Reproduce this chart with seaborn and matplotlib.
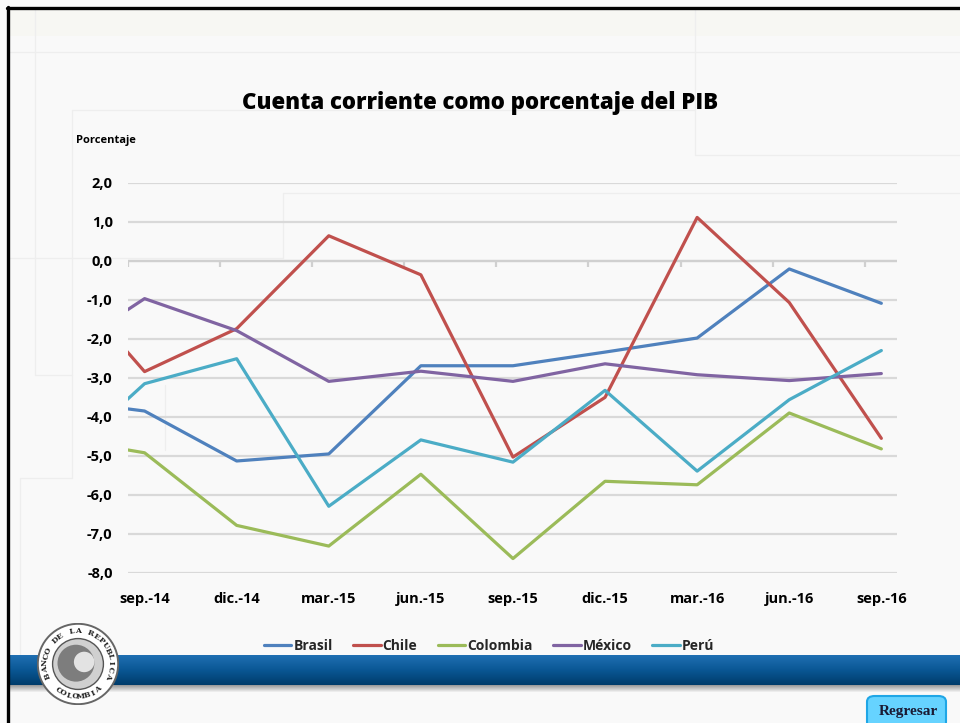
import numpy as np
import pandas as pd
import matplotlib
matplotlib.use("Agg")
import matplotlib.pyplot as plt
import seaborn as sns
from matplotlib.patches import Circle, FancyBboxPatch, Rectangle
from matplotlib.lines import Line2D
from matplotlib.colors import LinearSegmentedColormap

# ---------------- data ----------------
quarters = ["jun.-14", "sep.-14", "dic.-14", "mar.-15", "jun.-15", "sep.-15",
            "dic.-15", "mar.-16", "jun.-16", "sep.-16"]
quarter_pos = [-1, 0, 1, 2, 3, 4, 5, 6, 7, 8]
tick_labels = ["sep.-14", "dic.-14", "mar.-15", "jun.-15", "sep.-15",
               "dic.-15", "mar.-16", "jun.-16", "sep.-16"]
brasil   = [-3.55, -3.85, -5.13, -4.95, -2.69, -2.69, -2.34, -1.98, -0.21, -1.09]
chile    = [-0.14, -2.84, -1.74,  0.64, -0.36, -5.03, -3.50,  1.11, -1.07, -4.55]
colombia = [-4.52, -4.92, -6.78, -7.31, -5.47, -7.63, -5.65, -5.74, -3.90, -4.82]
mexico   = [-2.52, -0.97, -1.79, -3.09, -2.83, -3.09, -2.64, -2.92, -3.07, -2.89]
peru     = [-5.30, -3.15, -2.51, -6.29, -4.59, -5.16, -3.32, -5.39, -3.56, -2.30]
countries = ["Brasil", "Chile", "Colombia", "México", "Perú"]
colors = ["#4F81BD", "#C0504D", "#9BBB59", "#8064A2", "#4BACC6"]
yticks = [2, 1, 0, -1, -2, -3, -4, -5, -6, -7, -8]
ytick_labels = ["2,0", "1,0", "0,0", "-1,0", "-2,0", "-3,0", "-4,0", "-5,0",
                "-6,0", "-7,0", "-8,0"]

series = {"Brasil": brasil, "Chile": chile, "Colombia": colombia,
          "México": mexico, "Perú": peru}
df = pd.DataFrame([
    {"pos": p, "quarter": q, "country": c, "value": v}
    for c in countries
    for p, q, v in zip(quarter_pos, quarters, series[c])
])

# ---------------- style ----------------
sns.set_theme(style="white")
plt.rcParams["font.family"] = ["Open Sans", "DejaVu Sans"]

W, H = 960, 723
fig = plt.figure(figsize=(W / 100, H / 100), dpi=100)
fig.patch.set_facecolor("#f9f9f9")

def fx(x):
    return x / W

def fy(y):
    return 1 - y / H

# top band of slide
fig.add_artist(Rectangle((fx(8), fy(36)), 1, fy(8) - fy(36), transform=fig.transFigure,
                         facecolor="#f7f7f3", edgecolor="none", zorder=0))

# faint decorative lines of slide background
deco = [
    ((35, 8), (35, 375)), ((8, 52), (960, 52)), ((35, 375), (72, 375)),
    ((72, 110), (72, 478)), ((72, 110), (695, 110)), ((695, 8), (695, 155)),
    ((695, 155), (960, 155)), ((8, 258), (283, 258)), ((283, 193), (283, 258)),
    ((283, 193), (960, 193)), ((20, 478), (72, 478)), ((20, 478), (20, 655)),
    ((165, 385), (165, 450)),
]
for (x0, y0), (x1, y1) in deco:
    fig.add_artist(Line2D([fx(x0), fx(x1)], [fy(y0), fy(y1)], transform=fig.transFigure,
                          color="#eeeeee", lw=0.9, zorder=0))

# ---------------- chart ----------------
ax = fig.add_axes([fx(128), fy(573), fx(897) - fx(128), fy(182.7) - fy(573)])
ax.set_facecolor("none")
ax.set_zorder(2)

sns.lineplot(data=df, x="pos", y="value", hue="country", hue_order=countries,
             palette=colors, linewidth=2.3, ax=ax, legend=False, sort=True)

ax.set_xlim(-0.18, 8.17)
ax.set_ylim(-8, 2)
ax.set_yticks(yticks)
ax.set_yticklabels(ytick_labels)
ax.set_xticks(range(len(tick_labels)))
ax.set_xticklabels(tick_labels)
ax.yaxis.grid(True, color="#d9d9d9", lw=1.6)
ax.xaxis.grid(False)
ax.set_axisbelow(True)
for s in ax.spines.values():
    s.set_visible(False)
ax.tick_params(axis="both", length=0, labelsize=10.5, colors="black")
ax.tick_params(axis="y", pad=11)
ax.tick_params(axis="x", pad=14)
for lab in ax.get_xticklabels() + ax.get_yticklabels():
    lab.set_fontweight("bold")
ax.set_xlabel("")
ax.set_ylabel("")

# horizontal axis line at zero with small tick marks
ax.axhline(0, color="#d0d0d0", lw=1.6, zorder=1)
xl = ax.get_xlim()[0]
ax.vlines([xl + k for k in range(9)], -0.17, 0, color="#d0d0d0", lw=1.6, zorder=1)

# title and unit
fig.text(fx(480), fy(103), "Cuenta corriente como porcentaje del PIB", ha="center",
         va="center", fontsize=16, fontweight="heavy", color="black")
fig.text(fx(76), fy(140), "Porcentaje", ha="left", va="center", fontsize=8,
         fontweight="bold", color="black")

# legend
handles = [Line2D([0], [0], color=c, lw=2.3) for c in colors]
fig.legend(handles, countries, loc="center", bbox_to_anchor=(fx(489), fy(646)), ncol=5,
           frameon=False, handlelength=2.0, handletextpad=0.15, columnspacing=1.45,
           prop={"weight": "bold", "size": 10})

# ---------------- slide decorations ----------------
band = fig.add_axes([fx(8), fy(685), 1 - fx(8), fy(655) - fy(685)])
grad = np.linspace(0, 1, 64).reshape(-1, 1)
cmap = LinearSegmentedColormap.from_list("band", ["#1f6fb2", "#0a5794", "#003c6b"])
band.imshow(grad, aspect="auto", cmap=cmap, extent=[0, 1, 0, 1], origin="upper")
band.axis("off")
shadow = fig.add_axes([fx(8), fy(692), 1 - fx(8), fy(685) - fy(692)])
cmap2 = LinearSegmentedColormap.from_list("shadow", ["#8a8a8a", "#f2f2f2"])
shadow.imshow(grad, aspect="auto", cmap=cmap2, extent=[0, 1, 0, 1], origin="upper")
shadow.axis("off")

# logo
lg = fig.add_axes([fx(37), fy(705), fx(82), fy(623) - fy(705)])
lg.set_xlim(-1, 1)
lg.set_ylim(-1, 1)
lg.set_aspect("equal")
lg.axis("off")
lg.add_patch(Circle((0, 0), 0.98, facecolor="white", edgecolor="#666666", lw=1.4))
lg.add_patch(Circle((0, 0), 0.62, facecolor="#d0d0d0", edgecolor="#555555", lw=1.0))
lg.add_patch(Circle((-0.05, 0.02), 0.45, facecolor="#7d7d7d", edgecolor="none"))
lg.add_patch(Circle((0.15, 0.05), 0.25, facecolor="#e3e3e3", edgecolor="none"))
top_txt = "BANCO DE LA REPUBLICA"
angs = np.linspace(200, -20, len(top_txt))
for ch, a in zip(top_txt, angs):
    r = np.deg2rad(a)
    lg.text(0.8 * np.cos(r), 0.8 * np.sin(r), ch, rotation=a - 90, ha="center",
            va="center", fontsize=5.5, family="DejaVu Serif", fontweight="bold",
            color="#222222")
bot_txt = "COLOMBIA"
angs = np.linspace(232, 308, len(bot_txt))
for ch, a in zip(bot_txt, angs):
    r = np.deg2rad(a)
    lg.text(0.8 * np.cos(r), 0.8 * np.sin(r), ch, rotation=a + 90, ha="center",
            va="center", fontsize=5.5, family="DejaVu Serif", fontweight="bold",
            color="#222222")

# Regresar button
fig.add_artist(FancyBboxPatch((fx(867), fy(728)), fx(946) - fx(867), fy(696) - fy(728),
                              boxstyle="round,pad=0,rounding_size=0.008",
                              transform=fig.transFigure, facecolor="#66d3ff",
                              edgecolor="#1fa6e6", lw=1.5, zorder=5))
fig.text(fx(908), fy(711), "Regresar", ha="center", va="center", fontsize=11,
         family="Liberation Serif", fontweight="bold", color="#1a1a33", zorder=6)

# black frame (top and left)
fig.add_artist(Line2D([fx(7), 1], [fy(8), fy(8)], transform=fig.transFigure,
                      color="black", lw=2.4, zorder=10))
fig.add_artist(Line2D([fx(8), fx(8)], [fy(7), 0], transform=fig.transFigure,
                      color="black", lw=2.4, zorder=10))

fig.savefig("out.png", dpi=100, facecolor=fig.get_facecolor())
